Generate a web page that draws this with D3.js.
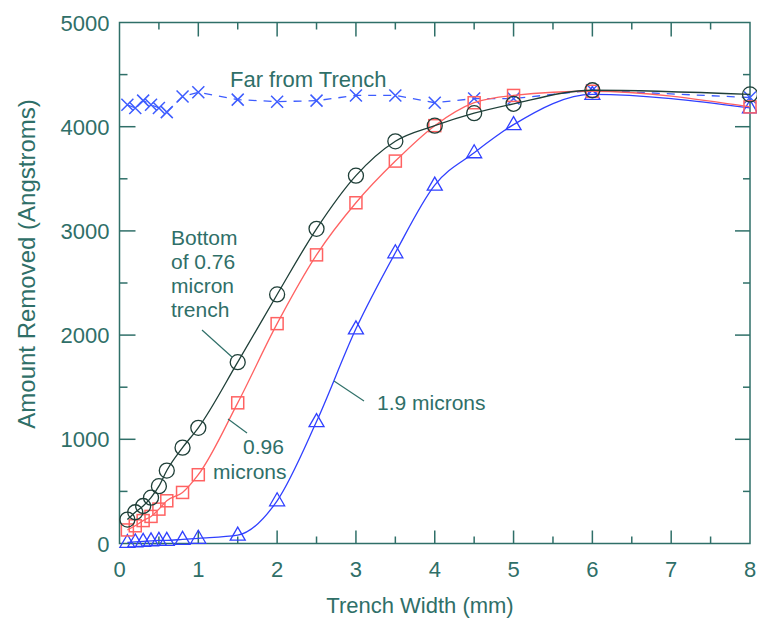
<!DOCTYPE html>
<html>
<head>
<meta charset="utf-8">
<script src="https://cdn.jsdelivr.net/npm/d3@7"></script>
<style>
    body { margin: 0; background: #fff; }
    text { font-family: "Liberation Sans", Arial, sans-serif; fill: #2f6f68; }
</style>
</head>
<body>
<div id="chart"></div>
<script>
// trench widths (mm) shared by all four series
const widths = [0.1, 0.2, 0.3, 0.4, 0.5, 0.6, 0.8, 1, 1.5, 2, 2.5, 3, 3.5, 4, 4.5, 5, 6, 8];

// amount removed (Angstroms)
const bottom076 = [230, 300, 360, 440, 550, 700, 920, 1110, 1740, 2390, 3020, 3530, 3860, 4010, 4130, 4220, 4350, 4310];
const microns096 = [130, 170, 220, 260, 330, 410, 490, 660, 1350, 2110, 2770, 3270, 3670, 4010, 4230, 4300, 4340, 4190];
const microns19 = [10, 15, 20, 25, 30, 30, 40, 50, 80, 410, 1170, 2060, 2790, 3440, 3750, 4020, 4310, 4180];
const farFromTrench = [4210, 4180, 4250, 4210, 4180, 4140, 4290, 4330, 4260, 4240, 4250, 4300, 4300, 4230, 4270, 4270, 4350, 4280];

const xTicks = [0, 1, 2, 3, 4, 5, 6, 7, 8];
const yTicks = [0, 1000, 2000, 3000, 4000, 5000];

const axisColor = "#2f6f68";

let margin = {top: 22.5, right: 7, bottom: 76.5, left: 119.5};
let width = 757 - margin.left - margin.right;
let height = 620 - margin.top - margin.bottom;

let svg = d3.select("#chart").append("svg")
    .attr("width", 757)
    .attr("height", 620);

let g = svg.append("g")
    .attr("transform", "translate(" + margin.left + "," + margin.top + ")");

let x = d3.scaleLinear().domain([0, 8]).range([0, width]);
let y = d3.scaleLinear().domain([0, 5000]).range([height, 0]);

// frame
g.append("rect")
    .attr("width", width)
    .attr("height", height)
    .attr("fill", "none")
    .attr("stroke", axisColor)
    .attr("stroke-width", 1.5);

// inward ticks on all four sides (major + minor)
let xMinor = d3.range(0.5, 8, 1);
let yMinor = d3.range(500, 5000, 1000);

function tickSet(vals, len, side) {
    g.selectAll(null)
        .data(vals)
        .enter().append("line")
        .attr("stroke", axisColor)
        .attr("stroke-width", 1.5)
        .attr("x1", d => side == "bottom" || side == "top" ? x(d) : (side == "left" ? 0 : width))
        .attr("x2", d => side == "bottom" || side == "top" ? x(d) : (side == "left" ? len : width - len))
        .attr("y1", d => side == "left" || side == "right" ? y(d) : (side == "bottom" ? height : 0))
        .attr("y2", d => side == "left" || side == "right" ? y(d) : (side == "bottom" ? height - len : len));
}
tickSet(xTicks.slice(1, -1), 13, "bottom");
tickSet(xMinor, 7, "bottom");
tickSet(xTicks.slice(1, -1), 14, "top");
tickSet(xMinor, 7, "top");
tickSet(yTicks.slice(1, -1), 16, "left");
tickSet(yMinor, 8, "left");
tickSet(yTicks.slice(1, -1), 15, "right");
tickSet(yMinor, 7, "right");

// tick labels
g.selectAll(".xlab")
    .data(xTicks)
    .enter().append("text")
    .attr("class", "xlab")
    .attr("x", d => x(d))
    .attr("y", height + 33)
    .attr("text-anchor", "middle")
    .style("font-size", "22px")
    .text(d => d);

g.selectAll(".ylab")
    .data(yTicks)
    .enter().append("text")
    .attr("class", "ylab")
    .attr("x", -10)
    .attr("y", d => y(d) + 8)
    .attr("text-anchor", "end")
    .style("font-size", "22px")
    .text(d => d);

// axis titles
svg.append("text")
    .attr("x", 420)
    .attr("y", 613)
    .attr("text-anchor", "middle")
    .style("font-size", "22px")
    .text("Trench Width (mm)");

svg.append("text")
    .attr("transform", "translate(35,264) rotate(-90)")
    .attr("text-anchor", "middle")
    .style("font-size", "24px")
    .text("Amount Removed (Angstroms)");

// series
let series = [
    {name: "far", values: farFromTrench, color: "#3d5cff", marker: "x", dash: "8,7", curve: d3.curveLinear},
    {name: "1.9", values: microns19, color: "#3040ff", marker: "triangle", dash: null, curve: d3.curveMonotoneX},
    {name: "0.96", values: microns096, color: "#ff6262", marker: "square", dash: null, curve: d3.curveMonotoneX},
    {name: "0.76", values: bottom076, color: "#1f3f38", marker: "circle", dash: null, curve: d3.curveMonotoneX}
];

series.forEach(s => {
    let pts = widths.map((w, i) => ({x: w, y: s.values[i]}));

    let line = d3.line()
        .x(d => x(d.x))
        .y(d => y(d.y))
        .curve(s.curve);

    g.append("path")
        .datum(pts)
        .attr("d", line)
        .attr("fill", "none")
        .attr("stroke", s.color)
        .attr("stroke-width", 1.3)
        .attr("stroke-dasharray", s.dash);

    let m = g.selectAll(null)
        .data(pts)
        .enter().append("g")
        .attr("transform", d => "translate(" + x(d.x) + "," + y(d.y) + ")");

    if (s.marker == "circle") {
        m.append("circle").attr("r", 7.5)
            .attr("fill", "none").attr("stroke", s.color).attr("stroke-width", 1.3);
    } else if (s.marker == "square") {
        m.append("rect").attr("x", -6).attr("y", -6).attr("width", 12).attr("height", 12)
            .attr("fill", "none").attr("stroke", s.color).attr("stroke-width", 1.5);
    } else if (s.marker == "triangle") {
        m.append("path").attr("d", "M0,-8L7.5,5L-7.5,5Z")
            .attr("fill", "none").attr("stroke", s.color).attr("stroke-width", 1.3);
    } else {
        m.append("path").attr("d", "M-6,-6L6,6M-6,6L6,-6")
            .attr("fill", "none").attr("stroke", s.color).attr("stroke-width", 1.5);
    }
});

// annotations
let ann = svg.append("g").style("font-size", "21px");

ann.append("text").attr("x", 230).attr("y", 87).style("font-size", "22px").text("Far from Trench");

["Bottom", "of 0.76", "micron", "trench"].forEach((t, i) => {
    ann.append("text").attr("x", 171).attr("y", 245 + i * 24).text(t);
});

ann.append("text").attr("x", 243).attr("y", 454).text("0.96");
ann.append("text").attr("x", 213).attr("y", 479).text("microns");
ann.append("text").attr("x", 377).attr("y", 410).text("1.9 microns");

// leader lines
let leaders = [
    [[202, 330], [232, 357]],
    [[228, 419], [247, 433]],
    [[334, 381], [364, 401]]
];
svg.selectAll(".leader")
    .data(leaders)
    .enter().append("line")
    .attr("class", "leader")
    .attr("x1", d => d[0][0]).attr("y1", d => d[0][1])
    .attr("x2", d => d[1][0]).attr("y2", d => d[1][1])
    .attr("stroke", axisColor)
    .attr("stroke-width", 1.2);
</script>
</body>
</html>
